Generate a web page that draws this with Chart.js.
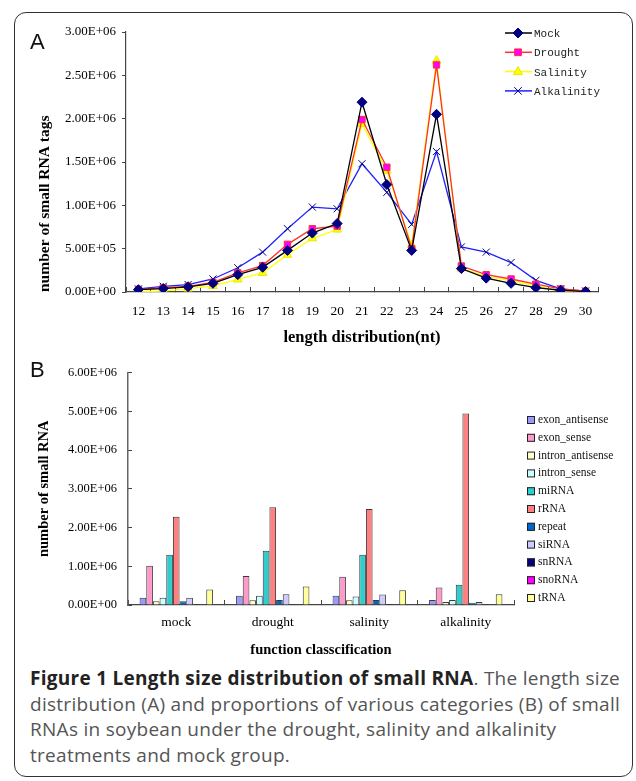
<!DOCTYPE html>
<html>
<head>
<meta charset="utf-8">
<script src="https://cdn.jsdelivr.net/npm/chart.js@4.4.0/dist/chart.umd.min.js"></script>
<style>
  body { margin: 0; background: #fff; width: 636px; height: 781px; position: relative; overflow: hidden; }
  #frame { position: absolute; left: 14px; top: 12px; width: 619px; height: 765px; border: 1.5px solid #333; border-radius: 12px; box-sizing: border-box; }
  .panel-tag { position: absolute; font: 22px "Liberation Sans", Arial, sans-serif; color: #111; }
  #caption { position: absolute; left: 30px; top: 666px; width: 610px; font: 19px "Open Sans", sans-serif; line-height: 25.5px; color: #555; white-space: nowrap; letter-spacing: 0.28px; }
  #caption b { color: #222; }
  canvas { position: absolute; left: 0; }
</style>
</head>
<body>
<div id="frame"></div>
<canvas id="lengthChart" width="636" height="350" style="top:0"></canvas>
<canvas id="classChart" width="636" height="315" style="top:350px"></canvas>
<div class="panel-tag" style="left:30px;top:29px">A</div>
<div class="panel-tag" style="left:30px;top:357px">B</div>
<div id="caption"><b>Figure 1 Length size distribution of small RNA</b>. The length size<br>distribution (A) and proportions of various categories (B) of small<br>RNAs in soybean under the drought, salinity and alkalinity<br>treatments and mock group.</div>

<script>
// panel A - tags per read length
const lengths = ['12', '13', '14', '15', '16', '17', '18', '19', '20', '21', '22', '23', '24', '25', '26', '27', '28', '29', '30'];
const mockTags = [27000, 40000, 60000, 100000, 200000, 285000, 480000, 680000, 790000, 2190000, 1240000, 480000, 2050000, 270000, 160000, 100000, 50000, 20000, 5000];
const droughtTags = [30000, 50000, 66000, 110000, 220000, 305000, 550000, 730000, 760000, 1990000, 1440000, 500000, 2620000, 300000, 200000, 150000, 90000, 35000, 10000];
const salinityTags = [3000, 10000, 40000, 70000, 145000, 220000, 430000, 620000, 720000, 1940000, 1400000, 540000, 2670000, 270000, 180000, 130000, 70000, 10000, 3000];
const alkalinityTags = [35000, 66000, 86000, 150000, 280000, 460000, 730000, 980000, 960000, 1480000, 1150000, 780000, 1620000, 520000, 460000, 340000, 135000, 35000, 10000];

// panel B - reads per RNA class
const treatments = ['mock', 'drought', 'salinity', 'alkalinity'];
const exonAntisense = [190000, 240000, 240000, 130000];
const exonSense = [1010000, 750000, 730000, 450000];
const intronAntisense = [100000, 125000, 125000, 75000];
const intronSense = [190000, 240000, 220000, 130000];
const miRNA = [1300000, 1400000, 1300000, 520000];
const rRNA = [2280000, 2520000, 2480000, 4940000];
const repeatRNA = [100000, 130000, 130000, 60000];
const siRNA = [190000, 280000, 270000, 75000];
const snRNA = [25000, 25000, 25000, 25000];
const snoRNA = [5000, 5000, 5000, 20000];
const tRNA = [400000, 480000, 380000, 280000];

const serif = '"Liberation Serif", "Times New Roman", serif';

function sciLabel(v) {
    let parts = Number(v).toExponential(2).split('e');
    let exp = parseInt(parts[1], 10);
    let sign = exp < 0 ? '-' : '+';
    let e = Math.abs(exp) < 10 ? '0' + Math.abs(exp) : '' + Math.abs(exp);
    return parts[0] + 'E' + sign + e;
}

function drawMarker(ctx, style, x, y, r) {
    ctx.beginPath();
    if (style === 'rectRot') {
        ctx.moveTo(x, y - r); ctx.lineTo(x + r, y); ctx.lineTo(x, y + r); ctx.lineTo(x - r, y); ctx.closePath();
        ctx.fill(); ctx.stroke();
    } else if (style === 'rect') {
        ctx.rect(x - r * 0.75, y - r * 0.75, r * 1.5, r * 1.5);
        ctx.fill(); ctx.stroke();
    } else if (style === 'triangle') {
        ctx.moveTo(x, y - r); ctx.lineTo(x + r * 0.9, y + r * 0.6); ctx.lineTo(x - r * 0.9, y + r * 0.6); ctx.closePath();
        ctx.fill(); ctx.stroke();
    } else if (style === 'crossRot') {
        let d = r * 0.75;
        ctx.moveTo(x - d, y - d); ctx.lineTo(x + d, y + d);
        ctx.moveTo(x + d, y - d); ctx.lineTo(x - d, y + d);
        ctx.stroke();
    }
}

const lineLegend = {
    id: 'lineLegend',
    afterDraw(chart) {
        const ctx = chart.ctx;
        ctx.save();
        chart.data.datasets.forEach((ds, i) => {
            let y = 33 + i * 19.3;
            ctx.strokeStyle = ds.borderColor;
            ctx.lineWidth = 1.5;
            ctx.beginPath();
            ctx.moveTo(505, y);
            ctx.lineTo(532, y);
            ctx.stroke();
            ctx.fillStyle = ds.pointBackgroundColor;
            ctx.strokeStyle = ds.pointBorderColor;
            ctx.lineWidth = 1;
            drawMarker(ctx, ds.pointStyle, 518, y, ds.pointRadius);
            ctx.fillStyle = '#222';
            ctx.font = '11px "Liberation Mono", monospace';
            ctx.textBaseline = 'middle';
            ctx.fillText(ds.label, 534, y + 1);
        });
        ctx.restore();
    }
};

const barLegend = {
    id: 'barLegend',
    afterDraw(chart) {
        const ctx = chart.ctx;
        ctx.save();
        chart.data.datasets.forEach((ds, i) => {
            let y = 70 + i * 17.8;
            ctx.fillStyle = ds.backgroundColor;
            ctx.fillRect(527, y - 4, 8, 8);
            ctx.strokeStyle = '#222';
            ctx.lineWidth = 1;
            ctx.strokeRect(527.5, y - 3.5, 7, 7);
            ctx.fillStyle = '#111';
            ctx.font = '11.5px ' + serif;
            ctx.textBaseline = 'middle';
            ctx.fillText(ds.label, 538, y);
        });
        ctx.restore();
    }
};

function lineSeries(label, data, lineColor, style, fill, border, radius) {
    return {
        label,
        data,
        borderColor: lineColor,
        borderWidth: 1.3,
        pointStyle: style,
        pointRadius: radius,
        pointHoverRadius: radius,
        pointBackgroundColor: fill,
        pointBorderColor: border,
        pointBorderWidth: 1,
        tension: 0,
        fill: false
    };
}

new Chart(document.getElementById('lengthChart'), {
    type: 'line',
    data: {
        labels: lengths,
        datasets: [
            lineSeries('Mock', mockTags, '#000000', 'rectRot', '#000080', '#000080', 5),
            lineSeries('Drought', droughtTags, '#ff3030', 'rect', '#ff00ff', '#ff3030', 4.5),
            lineSeries('Salinity', salinityTags, '#ffff00', 'triangle', '#ffff00', '#e8e800', 5),
            lineSeries('Alkalinity', alkalinityTags, '#2020ff', 'crossRot', '#000080', '#000080', 5)
        ]
    },
    options: {
        responsive: false,
        animation: false,
        layout: { padding: { top: 32, right: 38, left: 0, bottom: 0 } },
        plugins: { legend: { display: false }, tooltip: { enabled: false } },
        scales: {
            x: {
                offset: true,
                grid: { offset: true, drawOnChartArea: false, tickLength: -5, color: '#444' },
                border: { color: '#444', width: 1.2 },
                ticks: { color: '#000', font: { family: serif, size: 13.5 }, padding: 16, maxRotation: 0, autoSkip: false },
                title: { display: true, text: 'length distribution(nt)', color: '#000', font: { family: serif, size: 16.5, weight: 'bold' }, padding: { top: 0, bottom: 2 } },
                afterFit: (s) => { s.height = 58; }
            },
            y: {
                min: 0,
                max: 3000000,
                grid: { drawOnChartArea: false, tickLength: 4, color: '#444' },
                border: { color: '#444', width: 1.2 },
                ticks: { stepSize: 500000, color: '#000', font: { family: serif, size: 13 }, padding: 6, callback: (v) => sciLabel(v) },
                title: { display: true, text: 'number of small RNA tags', align: 'start', color: '#000', font: { family: serif, size: 15.5, weight: 'bold' }, padding: { top: 36, bottom: 0 } },
                afterFit: (s) => { s.width = 126; }
            }
        }
    },
    plugins: [lineLegend]
});

function barSeries(label, data, color) {
    return { label, data, backgroundColor: color, borderColor: '#3a3a3a', borderWidth: 1 };
}

new Chart(document.getElementById('classChart'), {
    type: 'bar',
    data: {
        labels: treatments,
        datasets: [
            barSeries('exon_antisense', exonAntisense, '#9999ff'),
            barSeries('exon_sense', exonSense, '#ff99cc'),
            barSeries('intron_antisense', intronAntisense, '#ffffcc'),
            barSeries('intron_sense', intronSense, '#ccffff'),
            barSeries('miRNA', miRNA, '#33cccc'),
            barSeries('rRNA', rRNA, '#ff8080'),
            barSeries('repeat', repeatRNA, '#0066cc'),
            barSeries('siRNA', siRNA, '#ccccff'),
            barSeries('snRNA', snRNA, '#000080'),
            barSeries('snoRNA', snoRNA, '#ff00ff'),
            barSeries('tRNA', tRNA, '#ffff99')
        ]
    },
    options: {
        responsive: false,
        animation: false,
        layout: { padding: { top: 16, right: 122, left: 0, bottom: 0 } },
        plugins: { legend: { display: false }, tooltip: { enabled: false } },
        datasets: { bar: { categoryPercentage: 0.76, barPercentage: 1 } },
        scales: {
            x: {
                grid: { offset: true, drawOnChartArea: false, tickLength: -5, color: '#444' },
                border: { color: '#444', width: 1.2 },
                ticks: { color: '#000', font: { family: serif, size: 13.5 }, padding: 14, maxRotation: 0 },
                title: { display: true, text: 'function classcification', color: '#000', font: { family: serif, size: 14.5, weight: 'bold' }, padding: { top: 0, bottom: 6 } },
                afterFit: (s) => { s.height = 60; }
            },
            y: {
                min: 0,
                max: 6000000,
                grid: { drawOnChartArea: false, tickLength: -4, color: '#444' },
                border: { color: '#666', width: 1.5 },
                ticks: { stepSize: 1000000, color: '#000', font: { family: serif, size: 12.5 }, padding: 15, callback: (v) => sciLabel(v) },
                title: { display: true, text: 'number of small RNA', color: '#000', font: { family: serif, size: 14.5, weight: 'bold' }, padding: { top: 36, bottom: 0 } },
                afterFit: (s) => { s.width = 128; }
            }
        }
    },
    plugins: [barLegend]
});
</script>
</body>
</html>
